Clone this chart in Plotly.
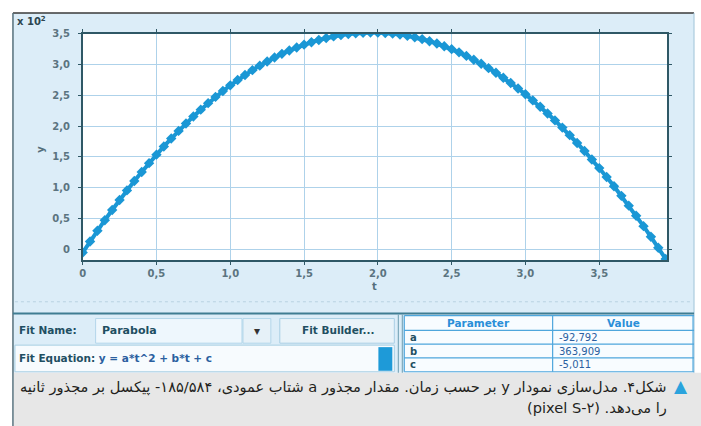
import plotly.graph_objects as go

# ---------------- data ----------------
t_values = [0.00, 0.05, 0.10, 0.15, 0.20, 0.25, 0.30, 0.35, 0.40, 0.45,
            0.50, 0.55, 0.60, 0.65, 0.70, 0.75, 0.80, 0.85, 0.90, 0.95,
            1.00, 1.05, 1.10, 1.15, 1.20, 1.25, 1.30, 1.35, 1.40, 1.45,
            1.50, 1.55, 1.60, 1.65, 1.70, 1.75, 1.80, 1.85, 1.90, 1.95,
            2.00, 2.05, 2.10, 2.15, 2.20, 2.25, 2.30, 2.35, 2.40, 2.45,
            2.50, 2.55, 2.60, 2.65, 2.70, 2.75, 2.80, 2.85, 2.90, 2.95,
            3.00, 3.05, 3.10, 3.15, 3.20, 3.25, 3.30, 3.35, 3.40, 3.45,
            3.50, 3.55, 3.60, 3.65, 3.70, 3.75, 3.80, 3.85, 3.90, 3.95]
y_values = [-5.0, 13.0, 30.5, 47.5, 64.1, 80.2, 95.8, 111.0, 125.7, 140.0,
            153.8, 167.1, 179.9, 192.3, 204.3, 215.7, 226.7, 237.3, 247.4, 257.0,
            266.1, 274.8, 283.0, 290.8, 298.1, 304.9, 311.3, 317.2, 322.6, 327.6,
            332.1, 336.1, 339.7, 342.8, 345.5, 347.7, 349.4, 350.6, 351.4, 351.8,
            351.6, 351.0, 350.0, 348.5, 346.5, 344.0, 341.1, 337.7, 333.9, 329.6,
            324.8, 319.6, 313.9, 307.7, 301.1, 294.0, 286.5, 278.4, 269.9, 261.0,
            251.6, 241.7, 231.4, 220.6, 209.3, 197.6, 185.4, 172.7, 159.6, 146.0,
            132.0, 117.5, 102.5, 87.0, 71.1, 54.8, 37.9, 20.6, 2.9, -15.4]

x_tickvals = [0, 0.5, 1.0, 1.5, 2.0, 2.5, 3.0, 3.5]
x_ticktext = ["0", "0,5", "1,0", "1,5", "2,0", "2,5", "3,0", "3,5"]
y_tickvals = [0, 50, 100, 150, 200, 250, 300, 350]
y_ticktext = ["0", "0,5", "1,0", "1,5", "2,0", "2,5", "3,0", "3,5"]

fit_name = "Parabola"
fit_equation = "y = a*t^2 + b*t + c"
param_names = ["a", "b", "c"]
param_values = ["-92,792", "363,909", "-5,011"]

caption_line1 = "شکل۴. مدل‌سازی نمودار y بر حسب زمان. مقدار مجذور a شتاب عمودی، ۱۸۵/۵۸۴- پیکسل بر مجذور ثانیه"
caption_line2 = "را می‌دهد. (pixel S-۲)"

# ---------------- helpers ----------------
W, H = 701, 426


def px(x):
    return x / W


def py(y):
    return 1 - y / H


shapes = []
annotations = []


def rect(x0, y0, x1, y1, fill, line=None, lw=1, layer="below"):
    shapes.append(dict(type="rect", xref="paper", yref="paper",
                       x0=px(x0), x1=px(x1), y0=py(y1), y1=py(y0),
                       fillcolor=fill,
                       line=dict(color=line if line else "rgba(0,0,0,0)", width=lw if line else 0),
                       layer=layer))


def hline(x0, x1, y, color, w=1, dash=None, layer="above"):
    shapes.append(dict(type="line", xref="paper", yref="paper",
                       x0=px(x0), x1=px(x1), y0=py(y), y1=py(y),
                       line=dict(color=color, width=w, dash=dash), layer=layer))


def vline(x, y0, y1, color, w=1, layer="above"):
    shapes.append(dict(type="line", xref="paper", yref="paper",
                       x0=px(x), x1=px(x), y0=py(y0), y1=py(y1),
                       line=dict(color=color, width=w), layer=layer))


def text(x, y, s, size=11, color="#1f4f62", xanchor="left", weight="bold",
         family="DejaVu Sans", angle=0):
    annotations.append(dict(xref="paper", yref="paper", x=px(x), y=py(y),
                            text=s, showarrow=False, xanchor=xanchor, yanchor="middle",
                            textangle=angle,
                            font=dict(size=size, color=color, family=family, weight=weight)))


# screenshot panel background
rect(10, 7, 694, 372, "#dcedf8")
# white plot area
rect(80, 28, 667, 258, "#ffffff")
# top and left borders
hline(10, 694, 7, "#3a3a3a", 1.5)
vline(10, 7, 426, "#55707c", 1.5)
vline(694, 7, 372, "#9fc4d8", 1)
# faint dotted line
hline(12, 692, 300, "#b9d3e2", 1, dash="dot")
# separator
hline(10, 694, 312, "#3f7d92", 2)

# ---- fit panel (left) ----
text(14, 329, "Fit Name:", size=10.5)
rect(93, 317, 240, 342, "#eef7fd", "#b3d6ea", 1)
text(97, 329, fit_name, size=11)
rect(241, 317, 269, 342, "#e6f1f8", "#b3d6ea", 1)
text(255, 330, "▾", size=12, color="#333333", xanchor="center")
rect(278, 317, 393, 342, "#e9f3f9", "#a9cfe4", 1)
text(336, 329, "Fit Builder...", size=10.5, xanchor="center")
rect(12, 344, 393, 371, "#f7fbfe", "#a9cfe4", 1)
text(14, 357, "Fit Equation: <span style='color:#2b5fa0'>" + fit_equation + "</span>", size=10.5)
rect(377, 346, 391, 370, "#1e9ad8")
vline(397, 313, 372, "#6b9cb0", 1)
vline(401, 313, 372, "#6b9cb0", 1)

# ---- parameter table (right) ----
rect(403, 314, 694, 372, "#f8fcff", None)
row_edges = [314, 329, 343, 357, 371]
for yy in row_edges:
    hline(403, 694, yy, "#4ea6dc", 1.2)
vline(403, 314, 371, "#4ea6dc", 1.2)
vline(552, 314, 371, "#4ea6dc", 1.2)
vline(693, 314, 371, "#4ea6dc", 1.2)
text(478, 322, "Parameter", size=10.5, color="#2a8fd8", xanchor="center")
text(623, 322, "Value", size=10.5, color="#2a8fd8", xanchor="center")
for i, (nm, val) in enumerate(zip(param_names, param_values)):
    ymid = (row_edges[i + 1] + row_edges[i + 2]) / 2
    text(407, ymid, nm, size=10, color="#1f4f62")
    text(556, ymid, val, size=10, color="#2b5fa0", weight="normal")

# ---- caption ----
rect(11, 372, 701, 426, "#e7e7e7")
annotations.append(dict(xref="paper", yref="paper", x=px(690), y=py(385),
                        text="▲", showarrow=False, xanchor="right", yanchor="middle",
                        font=dict(size=17, color="#2aa3dd", family="DejaVu Sans")))
text(669, 386, "\u202b" + caption_line1 + "\u202c", size=14.6, color="#231f20",
     xanchor="right", weight="normal")
text(669, 408, "\u202b" + caption_line2 + "\u202c", size=14.6, color="#231f20",
     xanchor="right", weight="normal")

# ---- axis extras ----
text(12, 15, "x 10<sup>2</sup>", size=10, color="#2d4650")
text(38, 145, "y", size=10, color="#55707c", xanchor="center", angle=-90)
text(373, 284, "t", size=10, color="#55707c", xanchor="center")

# ---------------- figure ----------------
fig = go.Figure()
fig.add_trace(go.Scatter(
    x=t_values, y=y_values, mode="lines+markers",
    line=dict(color="#1a97d5", width=4),
    marker=dict(symbol="diamond", size=8, color="#1a97d5"),
    showlegend=False, hoverinfo="skip"))

axis_common = dict(showgrid=True, gridcolor="#aed2ea", gridwidth=1,
                   showline=True, linecolor="#2f5866", linewidth=1.5, mirror="ticks",
                   ticks="outside", ticklen=3, tickcolor="#2f5866", zeroline=False,
                   tickfont=dict(size=10, color="#5b7480", family="DejaVu Sans", weight="bold"))

fig.update_layout(
    width=W, height=H, margin=dict(l=0, r=0, t=0, b=0),
    paper_bgcolor="#ffffff", plot_bgcolor="#ffffff",
    xaxis=dict(domain=[px(80), px(667)], range=[0, 3.96],
               tickvals=x_tickvals, ticktext=x_ticktext, **axis_common),
    yaxis=dict(domain=[py(258), py(28)], range=[-17.6, 350],
               tickvals=y_tickvals, ticktext=y_ticktext, ticklabelstandoff=6,
               **axis_common),
    shapes=shapes, annotations=annotations,
)

fig.write_html("out.html", config={"displayModeBar": False},
               post_script="document.body.style.margin='0';")
